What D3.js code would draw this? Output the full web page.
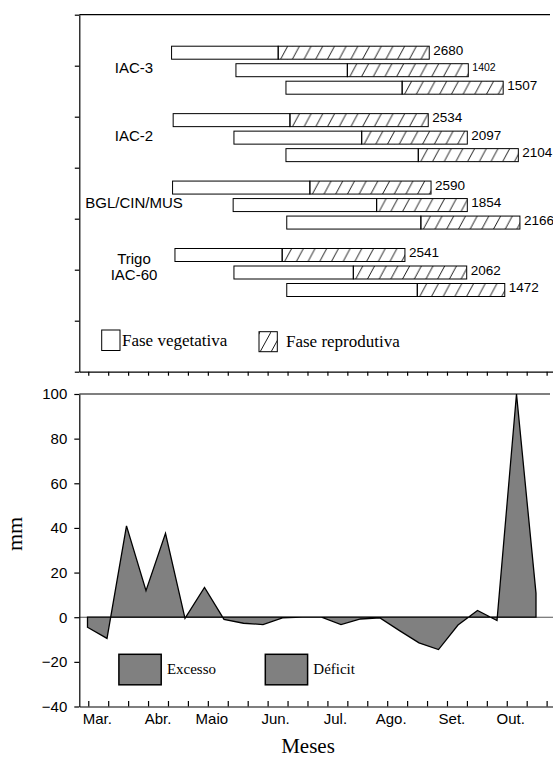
<!DOCTYPE html>
<html><head><meta charset="utf-8">
<script src="https://cdn.jsdelivr.net/npm/d3@7"></script>
<style>
body{margin:0;background:#fff}
text{fill:#000}
.sans{font-family:"Liberation Sans",Arial,sans-serif}
.serif{font-family:"Liberation Serif","Times New Roman",serif}
</style>
</head><body>
<svg id="c" width="553" height="760"></svg>
<script>
// ---------------- DATA ----------------
// Top panel: crop cycles (positions in 10-day periods, 0 = 1st decêndio of March)
const groups = ["IAC-3", "IAC-2", "BGL/CIN/MUS", "Trigo\nIAC-60"];
const sowing    = [[4.18, 7.41, 9.92], [4.26, 7.31, 9.92], [4.23, 7.27, 9.96], [4.35, 7.31, 9.96]];
const flowering = [[9.53, 13.0, 15.75], [10.12, 13.72, 16.56], [11.12, 14.47, 16.69], [9.73, 13.3, 16.51]];
const maturity  = [[17.11, 19.07, 20.82], [17.06, 19.02, 21.58], [17.2, 19.02, 21.66], [15.89, 18.99, 20.9]];
const totals    = [[2680, 1402, 1507], [2534, 2097, 2104], [2590, 1854, 2166], [2541, 2062, 1472]];
const legendTop = ["Fase vegetativa", "Fase reprodutiva"];

// Bottom panel: water balance per decêndio (mm)
const dekadIndex = d3.range(24);
const balance = [-4.5, -9.5, 40.9, 11.9, 37.6, -0.5, 13.3, -1, -2.7, -3.3, -0.3, 0,
                 0, -3.3, -0.8, -0.3, -6, -11.5, -14.5, -3.5, 3, -1.5, 100, 10.7];
const months = ["Mar.", "Abr.", "Maio", "Jun.", "Jul.", "Ago.", "Set.", "Out."];
const monthPos = [0.45, 3.5, 6.2, 9.4, 12.4, 15.2, 18.25, 21.2];
const yTicks = [-40, -20, 0, 20, 40, 60, 80, 100];
const legendBottom = ["Excesso", "Déficit"];

// ---------------- SCALES ----------------
const svg = d3.select("#c");
const xTick = d3.scaleLinear().domain([-0.45, 23.32]).range([79.3, 553]);
const xData = d3.scaleLinear().domain([0, 23]).range([87.5, 536]);
const yTop = d3.scaleLinear().domain([0, 7]).range([14.7, 371.7]);
const yGroup = d3.scalePoint().domain(d3.range(groups.length)).range([70.2, 272.5]);
const ySub = d3.scalePoint().domain([0, 1, 2]).range([-17.5, 17.5]);
const barH = 13;
const yBot = d3.scaleLinear().domain([-40, 100]).range([706.5, 394]);

// ---------------- TOP PANEL ----------------
const gTop = svg.append("g");
const axL = gTop.append("g").attr("transform", `translate(${xTick(-0.45)},0)`)
  .call(d3.axisLeft(yTop).tickValues(d3.range(0, 8)).tickSize(4.5).tickSizeOuter(0).tickFormat(""));
const axB = gTop.append("g").attr("transform", `translate(0,${yTop(7)})`)
  .call(d3.axisBottom(xTick).tickValues(dekadIndex).tickSize(4).tickSizeOuter(0).tickFormat(""));
gTop.append("line").attr("x1", xTick(-0.45)).attr("x2", 550)
  .attr("y1", yTop(0)).attr("y2", yTop(0)).attr("stroke", "#000").attr("stroke-width", 1.2);
[axL, axB].forEach(a => a.selectAll("path,line").attr("stroke", "#000").attr("stroke-width", 1.2));

const defs = svg.append("defs");
const bars = [];
groups.forEach((g, gi) => {
  [0, 1, 2].forEach(si => {
    bars.push({gi, si, s: sowing[gi][si], f: flowering[gi][si], m: maturity[gi][si], t: totals[gi][si]});
  });
});
bars.forEach((b, i) => {
  const yc = yGroup(b.gi) + ySub(b.si);
  const y0 = yc - barH / 2;
  const pid = "hatch" + i;
  const p = defs.append("pattern").attr("id", pid).attr("patternUnits", "userSpaceOnUse")
    .attr("x", xTick(b.f) + 2).attr("y", y0).attr("width", 11.7).attr("height", barH);
  p.append("path").attr("d", `M0.5,${barH} L7.5,0`).attr("stroke", "#000").attr("stroke-width", 0.9);
  gTop.append("rect").attr("x", xTick(b.s)).attr("y", y0)
    .attr("width", xTick(b.f) - xTick(b.s)).attr("height", barH)
    .attr("fill", "#fff").attr("stroke", "#000").attr("stroke-width", 1);
  gTop.append("rect").attr("x", xTick(b.f)).attr("y", y0)
    .attr("width", xTick(b.m) - xTick(b.f)).attr("height", barH)
    .attr("fill", `url(#${pid})`).attr("stroke", "#000").attr("stroke-width", 1);
  gTop.append("text").attr("class", "sans")
    .attr("x", xTick(b.m) + 4).attr("y", yc + (b.t === 1402 ? 1 : 2))
    .attr("font-size", b.t === 1402 ? 10.5 : 13.5).text(b.t);
});
groups.forEach((g, gi) => {
  const lines = g.split("\n");
  const t = gTop.append("text").attr("class", "sans").attr("font-size", 15)
    .attr("text-anchor", "middle").attr("x", 134)
    .attr("y", yGroup(gi) + 3 - (lines.length - 1) * 11.5);
  lines.forEach((l, li) => t.append("tspan").attr("x", 134).attr("dy", li ? 16 : 0).text(l));
});
const lg = gTop.append("g");
lg.append("rect").attr("x", 101.7).attr("y", 330).attr("width", 18.3).attr("height", 20.5)
  .attr("fill", "#fff").attr("stroke", "#000").attr("stroke-width", 1);
lg.append("text").attr("class", "serif").attr("font-size", 17).attr("x", 122).attr("y", 345.5).text(legendTop[0]);
const lp = defs.append("pattern").attr("id", "hatchLeg").attr("patternUnits", "userSpaceOnUse")
  .attr("x", 260).attr("y", 332).attr("width", 11).attr("height", 20);
lp.append("path").attr("d", "M0,20 L11,0").attr("stroke", "#000").attr("stroke-width", 0.9);
lg.append("rect").attr("x", 259).attr("y", 331.7).attr("width", 18.3).attr("height", 20)
  .attr("fill", "url(#hatchLeg)").attr("stroke", "#000").attr("stroke-width", 1);
lg.append("text").attr("class", "serif").attr("font-size", 17).attr("x", 286).attr("y", 346.5).text(legendTop[1]);

// ---------------- BOTTOM PANEL ----------------
const bot = svg.append("g");
bot.append("line").attr("x1", xTick(-0.45)).attr("x2", 550).attr("y1", yBot(100)).attr("y2", yBot(100))
  .attr("stroke", "#555").attr("stroke-width", 1.3);
bot.append("line").attr("x1", xTick(-0.45)).attr("x2", 553).attr("y1", yBot(0)).attr("y2", yBot(0))
  .attr("stroke", "#555").attr("stroke-width", 1.1);

const area = d3.area().x(k => xData(k)).y0(yBot(0)).y1(k => yBot(balance[k]));
bot.append("path").datum(dekadIndex).attr("d", area)
  .attr("fill", "#808080").attr("stroke", "#000").attr("stroke-width", 1.3).attr("stroke-linejoin", "miter");

const ayL = bot.append("g").attr("transform", `translate(${xTick(-0.45)},0)`)
  .call(d3.axisLeft(yBot).tickValues(yTicks).tickSize(5).tickPadding(7).tickSizeOuter(0));
const ayB = bot.append("g").attr("transform", `translate(0,${yBot(-40)})`)
  .call(d3.axisTop(xTick).tickValues(dekadIndex).tickSize(5.5).tickSizeOuter(0).tickFormat(""));
[ayL, ayB].forEach(a => {
  a.selectAll("path,line").attr("stroke", "#000").attr("stroke-width", 1.2);
  a.selectAll("text").attr("font-family", "Liberation Sans, Arial, sans-serif").attr("font-size", 15).attr("fill", "#000");
});
bot.selectAll(".month").data(months).join("text").attr("class", "sans month")
  .attr("font-size", 15).attr("text-anchor", "middle")
  .attr("x", (d, i) => xTick(monthPos[i])).attr("y", 724).text(d => d);

const legX = [118.9, 265.3];
legendBottom.forEach((l, i) => {
  bot.append("rect").attr("x", legX[i]).attr("y", 654.3).attr("width", 42.3).attr("height", 30.5)
    .attr("fill", "#808080").attr("stroke", "#000").attr("stroke-width", 1.5);
  bot.append("text").attr("class", "serif").attr("font-size", 15)
    .attr("x", legX[i] + 48).attr("y", 674).text(l);
});

svg.append("text").attr("class", "serif").attr("font-size", 22).attr("text-anchor", "middle")
  .attr("transform", "translate(22,534) rotate(-90)").text("mm");
svg.append("text").attr("class", "serif").attr("font-size", 21).attr("text-anchor", "middle")
  .attr("x", 308).attr("y", 753).text("Meses");
</script>
</body></html>
